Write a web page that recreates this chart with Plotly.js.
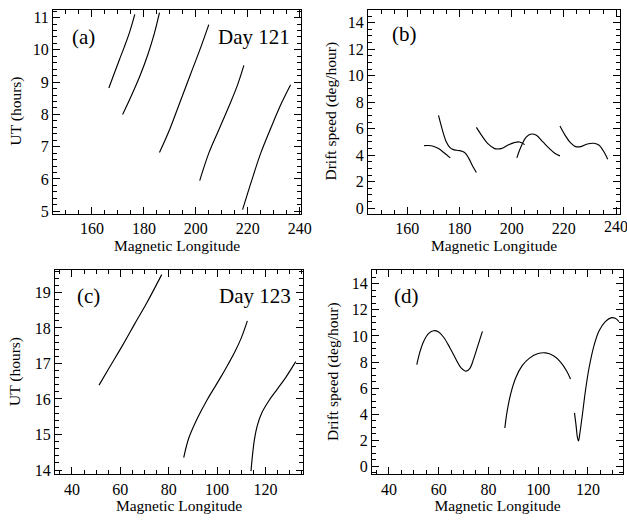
<!DOCTYPE html>
<html><head><meta charset="utf-8">
<script src="https://cdn.plot.ly/plotly-3.0.1.min.js"></script>
<style>html,body{margin:0;padding:0;background:#fff}#plot{width:627px;height:521px}</style>
</head><body><div id="plot"></div>
<script>
// Panel (a): UT vs magnetic longitude, Day 121
const a1x = [166.5, 168.5, 170.5, 172.5, 174.5, 176.5];
const a1y = [8.82, 9.25, 9.68, 10.1, 10.55, 11.1];
const a2x = [171.8, 175, 178.5, 181.5, 184, 186];
const a2y = [8.0, 8.55, 9.2, 9.85, 10.5, 11.15];
const a3x = [186, 190, 194, 198, 202, 205];
const a3y = [6.82, 7.55, 8.4, 9.25, 10.1, 10.78];
const a4x = [201.5, 205, 209, 213, 216, 218.5];
const a4y = [5.95, 6.8, 7.55, 8.3, 8.9, 9.52];
const a5x = [218, 221.5, 225, 229, 233, 236.5];
const a5y = [5.05, 5.95, 6.8, 7.6, 8.35, 8.92];
// Panel (b): drift speed, Day 121
const b1x = [166.5, 168, 170, 172, 174, 176.5];
const b1y = [4.72, 4.73, 4.68, 4.5, 4.2, 3.8];
const b2x = [172, 173.5, 175, 176.5, 178, 180, 182, 183.5, 185, 186.5];
const b2y = [7.0, 5.9, 5.0, 4.55, 4.4, 4.35, 4.2, 3.8, 3.2, 2.7];
const b3x = [186.5, 188.5, 191, 193.5, 196, 198.5, 201, 203, 205];
const b3y = [6.1, 5.5, 4.85, 4.5, 4.5, 4.75, 4.95, 5.0, 4.8];
const b4x = [202, 203.5, 205.5, 207.5, 209.5, 212, 214.5, 216.5, 218.5];
const b4y = [3.8, 4.6, 5.35, 5.6, 5.5, 5.0, 4.5, 4.15, 3.95];
const b5x = [218.5, 220.5, 222.5, 224.5, 226.5, 229, 231.5, 233.5, 235.5, 236.8];
const b5y = [6.2, 5.5, 4.95, 4.65, 4.65, 4.85, 4.9, 4.75, 4.2, 3.7];
// Panel (c): UT vs magnetic longitude, Day 123
const c1x = [51.2, 55.6, 61.1, 66, 70.9, 77.1];
const c1y = [16.39, 16.9, 17.53, 18.12, 18.7, 19.5];
const c2x = [86.2, 88.3, 91.8, 95.9, 101.4, 104.5, 107.5, 110, 112.5];
const c2y = [14.35, 14.9, 15.45, 15.98, 16.6, 16.97, 17.35, 17.72, 18.2];
const c3x = [114, 114.6, 115.4, 116.6, 118.4, 121.2, 124.8, 128.6, 132.5];
const c3y = [13.97, 14.4, 14.85, 15.25, 15.6, 15.93, 16.27, 16.63, 17.05];
// Panel (d): drift speed, Day 123
const d1x = [51.2, 52.5, 54, 56, 58, 60, 62, 64.5, 67, 69, 71, 72.5, 74, 75.5, 77, 77.6];
const d1y = [7.8, 8.8, 9.6, 10.2, 10.4, 10.3, 9.9, 9.1, 8.2, 7.55, 7.3, 7.5, 8.2, 9.1, 10.0, 10.35];
const d2x = [86.6, 87.5, 89, 91, 93.5, 96.5, 100, 103, 106, 109, 111.5, 113];
const d2y = [2.95, 4.2, 5.6, 6.8, 7.7, 8.3, 8.65, 8.7, 8.5, 8.0, 7.3, 6.7];
const d3x = [114.6, 115.2, 115.8, 116.2, 116.8, 117.8, 119, 120.5, 122.5, 124.5, 127, 129.5, 131, 132.5];
const d3y = [4.1, 3.2, 2.2, 1.95, 2.6, 4.0, 5.8, 7.6, 9.3, 10.4, 11.1, 11.4, 11.35, 11.1];

// Tick labels of the upper longitude axes (the last one of panel (b) sits at the page edge)
const lonTicksTop = [160, 180, 200, 220, 240];

const panelLabels = ['(a)', '(b)', '(c)', '(d)'];
const dayLabels = ['Day 121', 'Day 123'];
const xTitle = 'Magnetic Longitude';
const yTitles = ['UT (hours)', 'Drift speed (deg/hour)'];

const FONT = 'Liberation Serif, Times New Roman, serif';
const line = {color: '#000', width: 1.15, shape: 'spline', smoothing: 1};
function tr(x, y, xa, ya) { return {x: x, y: y, xaxis: xa, yaxis: ya, mode: 'lines', line: line, hoverinfo: 'skip', showlegend: false}; }

const traces = [
  tr(a1x, a1y, 'x', 'y'), tr(a2x, a2y, 'x', 'y'), tr(a3x, a3y, 'x', 'y'), tr(a4x, a4y, 'x', 'y'), tr(a5x, a5y, 'x', 'y'),
  tr(b1x, b1y, 'x2', 'y2'), tr(b2x, b2y, 'x2', 'y2'), tr(b3x, b3y, 'x2', 'y2'), tr(b4x, b4y, 'x2', 'y2'), tr(b5x, b5y, 'x2', 'y2'),
  tr(c1x, c1y, 'x3', 'y3'), tr(c2x, c2y, 'x3', 'y3'), tr(c3x, c3y, 'x3', 'y3'),
  tr(d1x, d1y, 'x4', 'y4'), tr(d2x, d2y, 'x4', 'y4'), tr(d3x, d3y, 'x4', 'y4')
];

function ax(domain, range, dtick, mdtick, anchor, title) {
  const o = {
    domain: domain, range: range, dtick: dtick, tick0: 0, anchor: anchor,
    showgrid: false, zeroline: false, showline: true, linecolor: '#000', linewidth: 1,
    mirror: 'allticks', ticks: 'inside', ticklen: 7, tickwidth: 1, tickcolor: '#000',
    tickfont: {family: FONT, size: 16, color: '#000'}, ticklabeloverflow: 'allow',
    minor: {dtick: mdtick, tick0: 0, ticks: 'inside', ticklen: 4, tickcolor: '#000', tickwidth: 1, showgrid: false},
    fixedrange: true
  };
  if (title) o.title = {text: title, font: {family: FONT, size: 15.5, color: '#000'}, standoff: 3};
  return o;
}

const W = 627, H = 521;
const xd = (l, r) => [l / W, r / W];
const yd = (t, b) => [1 - b / H, 1 - t / H];

function ann(text, xref, yref, x, y, xanchor, size) {
  return {text: text, xref: xref, yref: yref, x: x, y: y, xanchor: xanchor, yanchor: 'middle', showarrow: false, font: {family: FONT, size: size, color: '#000'}};
}
function ytitle(text, px, pyc) {
  return {text: text, xref: 'paper', yref: 'paper', x: px / W, y: 1 - pyc / H, xanchor: 'center', yanchor: 'middle', textangle: -90, showarrow: false, font: {family: FONT, size: 15.5, color: '#000'}};
}

const xaxis2 = ax(xd(368, 620), [145, 241.5], 20, 5, 'y2', xTitle);
xaxis2.tickmode = 'array';
xaxis2.tickvals = lonTicksTop;
xaxis2.ticktext = lonTicksTop.map(function (v, i) { return i === lonTicksTop.length - 1 ? '' : String(v); });

const last = lonTicksTop[lonTicksTop.length - 1];

const layout = {
  width: W, height: H, margin: {l: 0, r: 0, t: 0, b: 0},
  paper_bgcolor: '#fff', plot_bgcolor: '#fff', showlegend: false,
  xaxis: ax(xd(53, 301), [145, 240.5], 20, 5, 'y', xTitle),
  yaxis: ax(yd(9.5, 213.5), [4.93, 11.25], 1, 0.2, 'x'),
  xaxis2: xaxis2,
  yaxis2: ax(yd(9.5, 213.5), [-0.4, 15], 2, 0.5, 'x2'),
  xaxis3: ax(xd(55, 303), [33, 135.5], 20, 5, 'y3', xTitle),
  yaxis3: ax(yd(270, 474.3), [13.88, 19.63], 1, 0.2, 'x3'),
  xaxis4: ax(xd(372, 623), [33.2, 134.1], 20, 5, 'y4', xTitle),
  yaxis4: ax(yd(270, 474.3), [-0.6, 15.05], 2, 0.5, 'x4'),
  annotations: [
    ann(panelLabels[0], 'x domain', 'y domain', 0.069, 0.865, 'left', 21),
    ann(dayLabels[0], 'x domain', 'y domain', 0.965, 0.865, 'right', 21),
    ann(panelLabels[1], 'x2 domain', 'y2 domain', 0.087, 0.882, 'left', 21),
    ann(panelLabels[2], 'x3 domain', 'y3 domain', 0.081, 0.873, 'left', 21),
    ann(dayLabels[1], 'x3 domain', 'y3 domain', 0.96, 0.873, 'right', 21),
    ann(panelLabels[3], 'x4 domain', 'y4 domain', 0.08, 0.873, 'left', 21),
    ytitle(yTitles[0], 15, 111.5),
    ytitle(yTitles[1], 330, 111.5),
    ytitle(yTitles[0], 15, 372),
    ytitle(yTitles[1], 333, 372),
    {text: String(last), xref: 'x2', yref: 'y2 domain', x: last, y: 0, yshift: -3,
     xanchor: 'center', yanchor: 'top', showarrow: false, font: {family: FONT, size: 16, color: '#000'}}
  ]
};

Plotly.newPlot('plot', traces, layout, {staticPlot: true, displayModeBar: false});
</script>
</body></html>
